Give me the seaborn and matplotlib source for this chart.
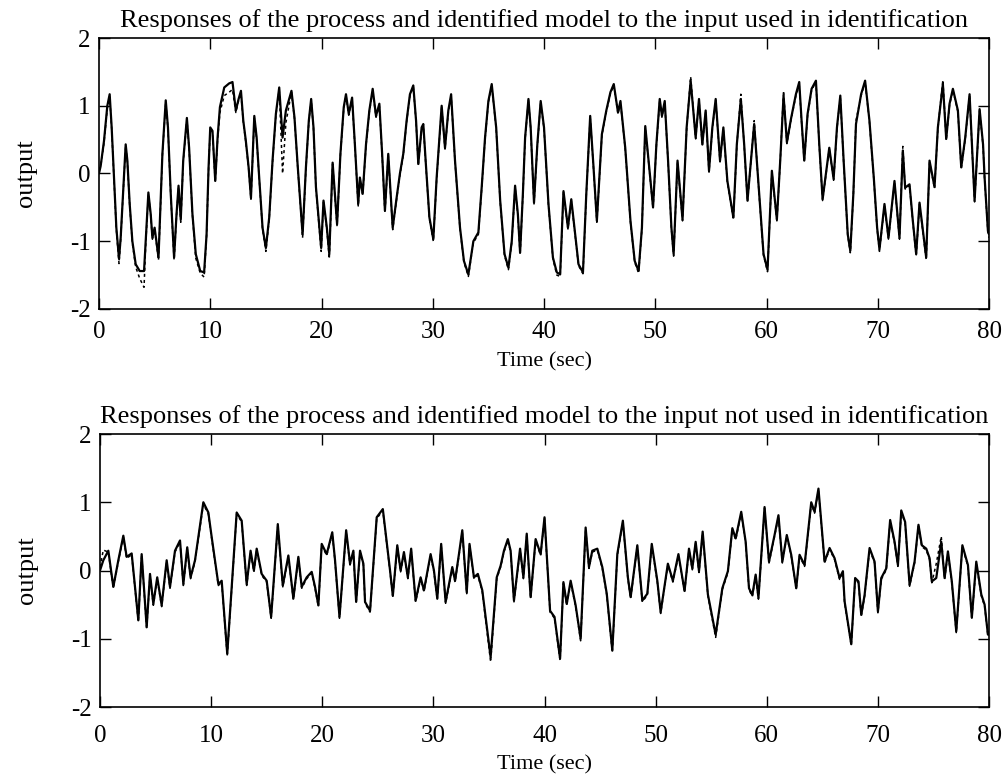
import matplotlib
matplotlib.use("Agg")
import matplotlib.pyplot as plt
import pandas as pd
import seaborn as sns

# ---------------- data ----------------
t_top = [0.0, 0.15, 0.45, 0.75, 0.96, 1.14, 1.35, 1.56, 1.8, 1.95,
         2.16, 2.4, 2.55, 2.76, 3.0, 3.3, 3.66, 4.05, 4.2, 4.44,
         4.65, 4.8, 5.0, 5.35, 5.5, 5.7, 6.0, 6.2, 6.45, 6.75,
         6.97, 7.15, 7.35, 7.57, 7.9, 8.1, 8.4, 8.7, 9.1, 9.45,
         9.67, 9.85, 10.0, 10.2, 10.45, 10.66, 10.87, 11.26, 11.7, 12.0,
         12.3, 12.55, 12.76, 12.97, 13.2, 13.45, 13.66, 13.96, 14.17, 14.4,
         14.7, 15.0, 15.3, 15.6, 15.9, 16.2, 16.5, 16.8, 17.3, 17.57,
         17.87, 18.17, 18.3, 18.6, 18.86, 19.07, 19.28, 19.5, 19.97, 20.18,
         20.48, 20.7, 21.0, 21.4, 21.7, 22.0, 22.2, 22.45, 22.75, 23.0,
         23.3, 23.45, 23.7, 24.0, 24.3, 24.6, 24.9, 25.2, 25.45, 25.7,
         26.0, 26.4, 26.75, 27.05, 27.35, 27.65, 27.95, 28.25, 28.5, 28.7,
         29.0, 29.15, 29.4, 29.7, 30.05, 30.35, 30.8, 31.1, 31.4, 31.65,
         32.0, 32.45, 32.8, 33.2, 33.65, 34.1, 34.4, 34.7, 35.0, 35.3,
         35.7, 36.06, 36.45, 36.8, 37.1, 37.4, 37.65, 37.85, 38.1, 38.3,
         38.6, 38.8, 39.1, 39.4, 39.7, 40.0, 40.4, 40.8, 41.15, 41.45,
         41.75, 42.15, 42.45, 42.8, 43.1, 43.5, 43.8, 44.15, 44.45, 44.75,
         45.2, 45.6, 45.97, 46.27, 46.65, 46.87, 47.3, 47.77, 48.15, 48.5,
         48.8, 49.1, 49.4, 49.8, 50.1, 50.4, 50.6, 50.85, 51.15, 51.45,
         51.65, 52.0, 52.45, 52.82, 53.18, 53.63, 53.93, 54.23, 54.53, 54.83,
         55.13, 55.43, 55.82, 56.12, 56.48, 57.02, 57.33, 57.69, 57.99, 58.29,
         58.44, 58.89, 59.34, 59.73, 60.09, 60.48, 60.93, 61.23, 61.53, 61.83,
         62.19, 62.64, 62.94, 63.15, 63.39, 63.69, 64.05, 64.44, 64.74, 65.04,
         65.64, 66.03, 66.33, 66.63, 66.93, 67.3, 67.53, 67.8, 68.04, 68.5,
         68.86, 69.25, 69.64, 69.94, 70.15, 70.6, 70.96, 71.5, 71.95, 72.25,
         72.46, 72.85, 73.15, 73.45, 73.75, 74.35, 74.65, 75.1, 75.4, 75.85,
         76.15, 76.45, 76.75, 77.2, 77.5, 77.86, 78.25, 78.46, 78.7, 79.15,
         79.46, 79.6, 79.9, 80.0]
process_top = [0.0, 0.11, 0.48, 1.0, 1.17, 0.68, -0.06, -0.8, -1.26, -0.95,
               -0.3, 0.43, 0.19, -0.45, -1.0, -1.34, -1.44, -1.44, -1.0, -0.28,
               -0.6, -0.95, -0.8, -1.24, -0.6, 0.29, 1.08, 0.68, -0.3, -1.24,
               -0.6, -0.18, -0.68, 0.19, 0.82, 0.38, -0.6, -1.19, -1.44, -1.46,
               -0.9, 0.09, 0.68, 0.63, -0.11, 0.53, 0.98, 1.27, 1.33, 1.35,
               0.93, 1.1, 1.22, 0.78, 0.48, 0.09, -0.36, 0.85, 0.53, -0.06,
               -0.8, -1.1, -0.65, 0.19, 0.88, 1.27, 0.53, 0.93, 1.22, 0.83,
               0.09, -0.6, -0.9, 0.09, 0.78, 1.1, 0.68, -0.2, -1.1, -0.4,
               -0.8, -1.19, 0.16, -0.75, 0.29, 0.98, 1.17, 0.88, 1.12, 0.43,
               -0.45, -0.06, -0.3, 0.43, 0.93, 1.25, 0.85, 1.03, 0.29, -0.55,
               0.29, -0.8, -0.36, 0.0, 0.29, 0.78, 1.17, 1.3, 0.78, 0.14,
               0.68, 0.73, 0.09, -0.65, -0.97, -0.06, 1.0, 0.38, 0.93, 1.17,
               0.19, -0.8, -1.29, -1.49, -1.0, -0.87, -0.2, 0.53, 1.07, 1.32,
               0.68, -0.4, -1.19, -1.39, -1.0, -0.18, -0.6, -1.17, -0.3, 0.53,
               1.1, 0.68, -0.43, 0.43, 1.07, 0.68, -0.45, -1.24, -1.46, -1.49,
               -0.26, -0.8, -0.38, -0.9, -1.34, -1.46, -0.3, 0.85, 0.09, -0.7,
               0.58, 0.93, 1.2, 1.32, 0.9, 1.07, 0.38, -0.7, -1.29, -1.44,
               -0.8, 0.7, 0.19, -0.5, 0.43, 1.1, 0.85, 1.07, 0.19, -0.8,
               -1.19, 0.19, -0.68, 0.68, 1.37, 0.53, 1.1, 0.43, 0.93, 0.04,
               0.68, 1.1, 0.19, 0.68, -0.11, -0.65, 0.43, 1.1, 0.43, -0.4,
               -0.11, 0.73, -0.31, -1.19, -1.42, 0.04, -0.68, 0.19, 1.15, 0.46,
               0.8, 1.17, 1.35, 0.78, 0.19, 0.88, 1.25, 1.37, 0.43, -0.38,
               0.38, -0.08, 0.68, 1.15, 0.19, -0.9, -1.14, -0.31, 0.73, 1.17,
               1.37, 0.78, -0.06, -0.8, -1.12, -0.45, -0.95, -0.11, -0.95, 0.34,
               -0.21, -0.16, -0.7, -1.19, -0.43, -1.24, 0.19, -0.2, 0.68, 1.32,
               0.51, 1.03, 1.25, 0.93, 0.09, 0.53, 1.17, 0.43, -0.4, 0.95,
               0.43, -0.06, -0.85, -0.9]
model_top = [0.05, 0.1, 0.45, 0.97, 1.13, 0.66, -0.08, -0.83, -1.33, -0.97,
             -0.32, 0.41, 0.17, -0.47, -1.03, -1.38, -1.55, -1.68, -1.05, -0.3,
             -0.62, -0.97, -0.82, -1.28, -0.62, 0.27, 1.05, 0.66, -0.32, -1.28,
             -0.62, -0.2, -0.72, 0.17, 0.8, 0.36, -0.62, -1.25, -1.47, -1.53,
             -0.92, 0.07, 0.66, 0.61, -0.13, 0.5, 0.9, 1.15, 1.2, 1.24,
             0.9, 1.08, 1.18, 0.76, 0.46, 0.07, -0.38, 0.82, 0.51, -0.08,
             -0.82, -1.15, -0.67, 0.17, 0.86, 1.24, 0.0, 0.75, 1.2, 0.81,
             0.07, -0.62, -0.95, 0.07, 0.76, 1.08, 0.66, -0.22, -1.15, -0.42,
             -0.82, -1.26, 0.14, -0.78, 0.27, 0.96, 1.15, 0.86, 1.1, 0.41,
             -0.48, -0.08, -0.32, 0.41, 0.91, 1.22, 0.83, 1.0, 0.27, -0.58,
             0.27, -0.83, -0.38, -0.02, 0.27, 0.76, 1.15, 1.28, 0.76, 0.12,
             0.66, 0.71, 0.07, -0.67, -1.0, -0.08, 0.98, 0.36, 0.91, 1.15,
             0.17, -0.82, -1.31, -1.52, -1.02, -0.9, -0.22, 0.51, 1.05, 1.3,
             0.66, -0.42, -1.21, -1.42, -1.02, -0.2, -0.62, -1.2, -0.32, 0.51,
             1.08, 0.66, -0.45, 0.41, 1.05, 0.66, -0.47, -1.26, -1.5, -1.52,
             -0.28, -0.82, -0.4, -0.92, -1.36, -1.48, -0.32, 0.83, 0.07, -0.72,
             0.56, 0.91, 1.18, 1.3, 0.88, 1.05, 0.36, -0.72, -1.31, -1.47,
             -0.82, 0.68, 0.17, -0.52, 0.41, 1.08, 0.83, 1.05, 0.17, -0.82,
             -1.22, 0.17, -0.7, 0.66, 1.43, 0.51, 1.08, 0.41, 0.91, 0.02,
             0.66, 1.08, 0.17, 0.66, -0.13, -0.68, 0.41, 1.17, 0.41, -0.42,
             -0.13, 0.78, -0.33, -1.21, -1.45, 0.02, -0.7, 0.17, 1.22, 0.44,
             0.78, 1.15, 1.3, 0.76, 0.17, 0.86, 1.23, 1.35, 0.41, -0.4,
             0.36, -0.1, 0.66, 1.13, 0.17, -0.92, -1.17, -0.33, 0.78, 1.15,
             1.35, 0.76, -0.08, -0.82, -1.15, -0.47, -0.97, -0.13, -0.97, 0.4,
             -0.23, -0.18, -0.72, -1.22, -0.45, -1.27, 0.17, -0.22, 0.66, 1.38,
             0.49, 1.01, 1.23, 0.91, 0.07, 0.51, 1.15, 0.41, -0.42, 0.93,
             0.41, -0.08, -0.87, -0.95]

t_bot = [0.0, 0.3, 0.75, 1.2, 1.65, 2.1, 2.4, 2.85, 3.45, 3.75,
         4.2, 4.5, 4.8, 5.15, 5.55, 6.0, 6.3, 6.75, 7.2, 7.5,
         7.85, 8.15, 8.55, 9.3, 9.75, 10.05, 10.65, 10.95, 11.45, 11.85,
         12.3, 12.75, 13.2, 13.55, 13.85, 14.1, 14.55, 15.0, 15.4, 16.0,
         16.45, 16.95, 17.4, 17.85, 18.15, 18.6, 19.05, 19.35, 19.65, 19.95,
         20.4, 20.9, 21.15, 21.55, 22.15, 22.5, 22.8, 23.05, 23.4, 23.7,
         23.85, 24.3, 24.9, 25.45, 26.1, 26.35, 26.75, 27.05, 27.35, 27.7,
         28.0, 28.4, 28.85, 29.15, 29.75, 30.05, 30.35, 30.7, 31.1, 31.7,
         31.95, 32.3, 32.6, 33.0, 33.25, 33.65, 34.0, 34.4, 35.15, 35.7,
         36.05, 36.35, 36.7, 36.95, 37.25, 37.8, 38.1, 38.4, 38.75, 39.2,
         39.65, 40.0, 40.5, 40.9, 41.4, 41.7, 42.0, 42.35, 42.8, 43.25,
         43.7, 44.0, 44.3, 44.75, 45.2, 45.6, 46.1, 46.55, 47.05, 47.5,
         47.75, 48.35, 48.8, 49.25, 49.65, 50.15, 50.45, 51.1, 51.55, 52.05,
         52.6, 53.0, 53.3, 53.6, 53.9, 54.23, 54.7, 55.4, 56.0, 56.5,
         56.9, 57.2, 57.7, 58.1, 58.4, 58.7, 59.0, 59.25, 59.8, 60.2,
         60.7, 61.05, 61.4, 61.8, 62.2, 62.65, 62.95, 63.4, 64.0, 64.3,
         64.65, 65.2, 65.65, 66.1, 66.55, 66.85, 67.0, 67.6, 67.95, 68.25,
         68.5, 68.8, 69.25, 69.7, 70.0, 70.3, 70.75, 71.1, 71.5, 71.8,
         72.1, 72.45, 72.85, 73.3, 73.65, 73.95, 74.35, 74.65, 74.85, 75.25,
         75.7, 76.0, 76.3, 76.65, 77.05, 77.6, 78.1, 78.45, 78.85, 79.3,
         79.6, 79.9, 80.0]
process_bot = [0.0, 0.15, 0.29, -0.24, 0.15, 0.51, 0.2, 0.25, -0.73, 0.24,
               -0.83, -0.05, -0.49, -0.1, -0.51, 0.15, -0.24, 0.29, 0.44, -0.2,
               0.34, -0.1, 0.15, 1.0, 0.85, 0.49, -0.2, -0.15, -1.22, -0.24,
               0.85, 0.73, -0.2, 0.29, 0.0, 0.32, -0.05, -0.15, -0.68, 0.68,
               -0.22, 0.22, -0.41, 0.2, -0.24, -0.1, -0.02, -0.24, -0.51, 0.39,
               0.24, 0.56, 0.15, -0.68, 0.59, 0.1, 0.29, -0.46, 0.29, 0.1,
               -0.46, -0.59, 0.78, 0.9, 0.0, -0.37, 0.37, 0.0, 0.27, -0.1,
               0.32, -0.44, -0.1, -0.29, 0.24, 0.0, -0.41, 0.39, -0.46, 0.05,
               -0.15, 0.24, 0.59, -0.32, 0.39, -0.1, -0.05, -0.29, -1.27, -0.1,
               0.07, 0.29, 0.46, 0.29, -0.44, 0.32, -0.1, 0.54, -0.39, 0.46,
               0.24, 0.78, -0.59, -0.68, -1.29, -0.17, -0.49, -0.15, -0.51, -1.0,
               0.63, 0.05, 0.29, 0.32, 0.05, -0.34, -1.17, 0.24, 0.73, -0.1,
               -0.39, 0.37, -0.44, -0.34, 0.39, -0.15, -0.61, 0.1, -0.15, 0.24,
               -0.3, 0.32, 0.03, 0.42, -0.01, 0.57, -0.35, -0.94, -0.26, -0.01,
               0.62, 0.47, 0.86, 0.42, -0.26, -0.36, -0.06, -0.4, 0.93, 0.13,
               0.52, 0.81, 0.13, 0.52, 0.23, -0.26, 0.23, 0.08, 1.0, 0.86,
               1.2, 0.13, 0.33, 0.18, -0.11, -0.01, -0.45, -1.08, -0.11, -0.16,
               -0.65, -0.36, 0.33, 0.13, -0.6, -0.11, 0.03, 0.74, 0.42, 0.08,
               0.88, 0.71, -0.21, 0.13, 0.67, 0.37, 0.32, 0.18, -0.16, -0.11,
               0.42, -0.11, 0.28, -0.16, -0.89, 0.37, 0.08, -0.69, 0.13, -0.35,
               -0.5, -0.94, -0.9]
model_bot = [0.05, 0.3, 0.27, -0.26, 0.13, 0.49, 0.18, 0.23, -0.75, 0.22,
             -0.85, -0.07, -0.51, -0.12, -0.53, 0.13, -0.26, 0.27, 0.42, -0.22,
             0.32, -0.12, 0.13, 0.97, 0.83, 0.47, -0.22, -0.17, -1.25, -0.26,
             0.83, 0.71, -0.22, 0.27, -0.02, 0.3, -0.07, -0.17, -0.7, 0.66,
             -0.24, 0.2, -0.43, 0.18, -0.26, -0.12, -0.04, -0.26, -0.53, 0.37,
             0.22, 0.54, 0.13, -0.7, 0.57, 0.08, 0.27, -0.48, 0.27, 0.08,
             -0.48, -0.61, 0.76, 0.88, -0.02, -0.39, 0.35, -0.02, 0.25, -0.12,
             0.3, -0.46, -0.12, -0.31, 0.22, -0.02, -0.43, 0.37, -0.48, 0.03,
             -0.17, 0.22, 0.57, -0.34, 0.37, -0.12, -0.07, -0.31, -1.34, -0.12,
             0.05, 0.27, 0.44, 0.27, -0.46, 0.3, -0.12, 0.52, -0.41, 0.44,
             0.22, 0.76, -0.61, -0.7, -1.32, -0.19, -0.51, -0.17, -0.53, -1.03,
             0.61, 0.03, 0.27, 0.3, 0.03, -0.36, -1.2, 0.22, 0.71, -0.12,
             -0.41, 0.35, -0.46, -0.36, 0.37, -0.17, -0.63, 0.08, -0.17, 0.22,
             -0.32, 0.3, 0.01, 0.4, -0.03, 0.55, -0.37, -0.98, -0.28, -0.03,
             0.6, 0.45, 0.84, 0.4, -0.28, -0.38, -0.08, -0.42, 0.91, 0.11,
             0.5, 0.79, 0.11, 0.5, 0.21, -0.28, 0.21, 0.06, 0.98, 0.84,
             1.18, 0.11, 0.31, 0.16, -0.13, -0.03, -0.47, -1.1, -0.13, -0.18,
             -0.67, -0.38, 0.31, 0.11, -0.62, -0.13, 0.01, 0.72, 0.4, 0.06,
             0.86, 0.69, -0.23, 0.11, 0.65, 0.35, 0.3, 0.16, -0.18, 0.1,
             0.5, -0.13, 0.26, -0.18, -0.91, 0.35, 0.06, -0.71, 0.11, -0.37,
             -0.52, -0.96, -0.95]

x_ticks = [0, 10, 20, 30, 40, 50, 60, 70, 80]
y_ticks = [-2, -1, 0, 1, 2]
title_top = "Responses of the process and identified model to the input used in identification"
title_bot = "Responses of the process and identified model to the input not used in identification"

# ---------------- style ----------------
sns.set_theme(style="ticks")
plt.rcParams['font.family'] = ['Liberation Serif', 'DejaVu Serif']
plt.rcParams['axes.unicode_minus'] = False

fig = plt.figure(figsize=(10.08, 7.82), dpi=100)
ax1 = fig.add_axes([0.0982, 0.6049, 0.883, 0.3465])
ax2 = fig.add_axes([0.0992, 0.0959, 0.882, 0.3491])

panels = [(ax1, t_top, process_top, model_top, title_top, 9),
          (ax2, t_bot, process_bot, model_bot, title_bot, 13)]
for ax, t, proc, mod, title, xpad in panels:
    df_p = pd.DataFrame({"t": t, "y": proc})
    df_m = pd.DataFrame({"t": t, "y": mod})
    sns.lineplot(data=df_m, x="t", y="y", ax=ax, color="black", lw=1.1,
                 linestyle=(0, (2, 2)), sort=False)
    sns.lineplot(data=df_p, x="t", y="y", ax=ax, color="black", lw=1.6, sort=False)
    ax.set_xlim(0, 80)
    ax.set_ylim(-2, 2)
    ax.set_xticks(x_ticks)
    ax.set_yticks(y_ticks)
    ax.tick_params(direction="in", top=True, right=True, length=8, width=1,
                   labelsize=18, colors="black")
    ax.tick_params(axis="x", pad=xpad)
    ax.tick_params(axis="y", pad=6)
    for s in ax.spines.values():
        s.set_linewidth(1.2)
        s.set_color("black")
    ax.set_title(title, fontsize=19, pad=8, color="black")
    ax.set_xlabel("Time (sec)", fontsize=16, labelpad=6, color="black")
    ax.set_ylabel("output", fontsize=19, labelpad=24, color="black")

fig.savefig("out.png", dpi=100)
